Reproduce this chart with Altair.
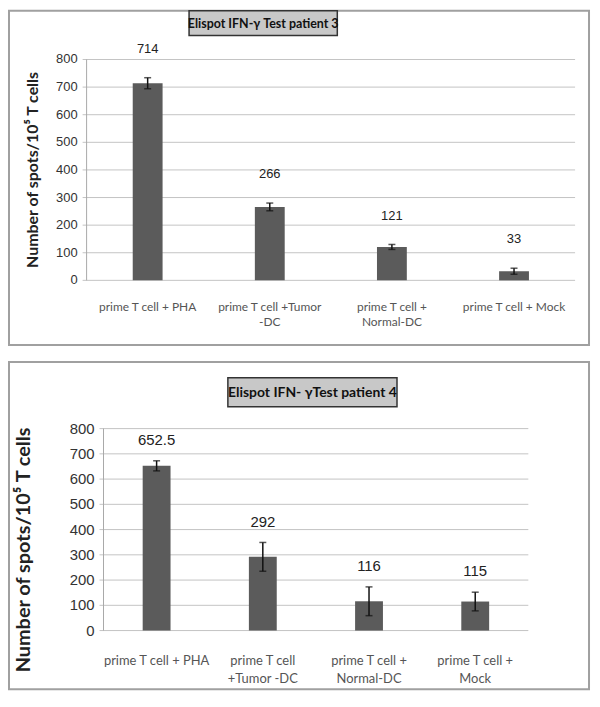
import altair as alt
import pandas as pd

# ---- data ----
cats_p3 = ["prime T cell + PHA", "prime T cell +Tumor|-DC", "prime T cell +|Normal-DC", "prime T cell + Mock"]
vals_p3 = [714, 266, 121, 33]
err_p3 = [20, 14, 9, 11]
labels_p3 = ["714", "266", "121", "33"]
title_p3 = "Elispot IFN-\u03b3 Test  patient 3"

cats_p4 = ["prime T cell + PHA", "prime T cell|+Tumor -DC", "prime T cell +|Normal-DC", "prime T cell +|Mock"]
vals_p4 = [652.5, 292, 116, 115]
err_p4 = [20, 57, 57, 37]
labels_p4 = ["652.5", "292", "116", "115"]
title_p4 = "Elispot IFN- \u03b3Test patient 4"

y_ticks = [0, 100, 200, 300, 400, 500, 600, 700, 800]
y_title = "Number of spots/10\u2075 T cells"

SHIFT = 17  # top panel plot starts 17px left of the bottom panel's


def panel(cats, vals, errs, labels, title, w, h, xr, bar_w, lab_dy, frame, tbox,
          tick_fs, x_fs, x_lh, x_pad, val_fs, ytitle_fs, ytitle_xy, title_fs):
    df = pd.DataFrame({
        "cat": cats,
        "val": vals,
        "lo": [v - e for v, e in zip(vals, errs)],
        "hi": [v + e for v, e in zip(vals, errs)],
        "lab": labels,
    })
    grid_df = pd.DataFrame({"g": y_ticks})
    one = pd.DataFrame({"t": [title], "yt": [y_title]})
    ax = xr[0]  # pixel position of the value axis line
    xenc = alt.X("cat:N", sort=cats, title=None,
                 scale=alt.Scale(paddingInner=0, paddingOuter=0, range=xr),
                 axis=alt.Axis(labelAngle=0, ticks=False, domain=False, grid=False,
                               labelExpr="split(datum.label, '|')",
                               labelFont="Lato", labelFontSize=x_fs, labelColor="#555555",
                               labelLineHeight=x_lh, labelPadding=x_pad, labelBaseline="top"))
    yscale = alt.Scale(domain=[0, 800], nice=False)
    gy = alt.Y("g:Q", scale=yscale, axis=None)

    frame_l = alt.Chart(one).mark_rect(filled=False, stroke="#a0a0a0", strokeWidth=2).encode(
        x=alt.value(frame[0]), x2=alt.value(frame[1]), y=alt.value(frame[2]), y2=alt.value(frame[3]))
    grid = alt.Chart(grid_df).mark_rule(color="#c4c4c4", strokeWidth=1).encode(
        x=alt.value(ax - 4), x2=alt.value(xr[1]), y=gy)
    domain = alt.Chart(one).mark_rule(color="#a8a8a8", strokeWidth=1).encode(
        x=alt.value(ax), y=alt.value(0), y2=alt.value(h))
    ylabels = alt.Chart(grid_df).mark_text(font="Liberation Sans", fontSize=tick_fs,
                                           color="#333333", align="right",
                                           baseline="middle").encode(
        x=alt.value(ax - 9), y=gy, text=alt.Text("g:Q", format="d"))
    bars = alt.Chart(df).mark_bar(width=bar_w, color="#5b5b5b").encode(
        x=xenc, y=alt.Y("val:Q", scale=yscale, axis=None))
    rules = alt.Chart(df).mark_rule(color="#111111", strokeWidth=1.5).encode(
        x=xenc, y=alt.Y("lo:Q", scale=yscale, axis=None), y2="hi:Q")
    cap_lo = alt.Chart(df).mark_tick(color="#111111", size=7, thickness=1.5).encode(
        x=xenc, y=alt.Y("lo:Q", scale=yscale, axis=None))
    cap_hi = alt.Chart(df).mark_tick(color="#111111", size=7, thickness=1.5).encode(
        x=xenc, y=alt.Y("hi:Q", scale=yscale, axis=None))
    text = alt.Chart(df).mark_text(font="Liberation Sans", fontSize=val_fs, color="#222222",
                                   baseline="middle", dy=lab_dy).encode(
        x=xenc, y=alt.Y("hi:Q", scale=yscale, axis=None), text="lab:N")
    ytitle = alt.Chart(one).mark_text(font="Lato", fontWeight="bold", fontSize=ytitle_fs,
                                      color="#222222", angle=270, align="center",
                                      baseline="middle").encode(
        x=alt.value(ytitle_xy[0]), y=alt.value(ytitle_xy[1]), text="yt:N")
    tbox_l = alt.Chart(one).mark_rect(fill="#c8c8c8", stroke="#333333", strokeWidth=1.5).encode(
        x=alt.value(tbox[0]), x2=alt.value(tbox[1]), y=alt.value(tbox[2]), y2=alt.value(tbox[3]))
    ttext = alt.Chart(one).mark_text(font="Lato", fontWeight="bold", fontSize=title_fs,
                                     color="#111111", align="center", baseline="middle").encode(
        x=alt.value((tbox[0] + tbox[1]) / 2), y=alt.value((tbox[2] + tbox[3]) / 2 + 0.5), text="t:N")
    return alt.layer(frame_l, grid, domain, ylabels, bars, rules, cap_lo, cap_hi, text,
                     ytitle, tbox_l, ttext).properties(width=w, height=h)


top = panel(cats_p3, vals_p3, err_p3, labels_p3, title_p3,
            w=474, h=222, xr=[-SHIFT, 474], bar_w=30, lab_dy=-29,
            frame=(-95, 488, -49, 287), tbox=(86, 235, -49, -24),
            tick_fs=13, x_fs=12, x_lh=15, x_pad=21, val_fs=13,
            ytitle_fs=16, ytitle_xy=(-71, 111), title_fs=12.5)

bottom = panel(cats_p4, vals_p4, err_p4, labels_p4, title_p4,
               w=427, h=203, xr=[0, 427], bar_w=28, lab_dy=-21,
               frame=(-95, 488, -67, 262), tbox=(125, 295, -51, -22),
               tick_fs=15, x_fs=13, x_lh=18, x_pad=24, val_fs=15,
               ytitle_fs=20, ytitle_xy=(-80, 122), title_fs=14)

chart = alt.vconcat(top, bottom, spacing=15).properties(
    padding=0, background="white"
).configure_view(strokeWidth=0)

chart.save("out.html", embed_options={"renderer": "svg", "actions": False})
